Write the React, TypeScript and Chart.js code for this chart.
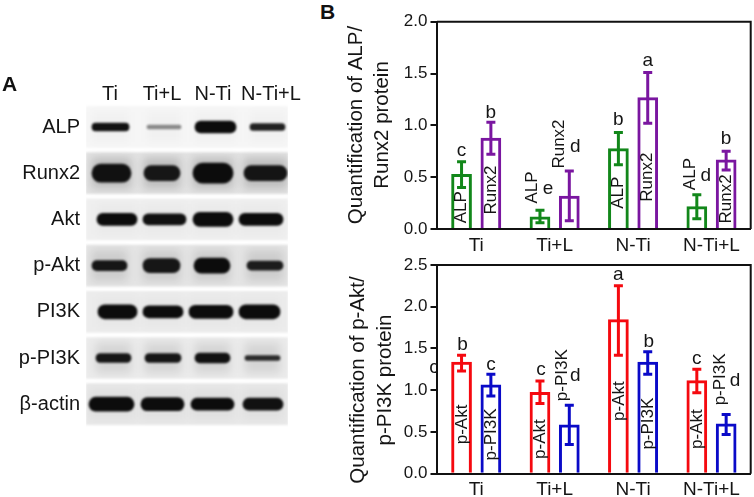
import { useEffect, useRef } from "react";
import Chart, { Plugin } from "chart.js/auto";

const FONT = "'Liberation Sans', Arial, sans-serif";
const TEXT = "#151515";

// panel A, blot bands. start/end are lane positions on the gel's x scale
const proteins = ["ALP", "Runx2", "Akt", "p-Akt", "PI3K", "p-PI3K", "β-actin"];
const lanes = ["Ti", "Ti+L", "N-Ti", "N-Ti+L"];
const laneCenters = [24, 76, 127, 185];
const gelWidth = 202;
const gelShade = ["#f6f6f6", "#e2e2e2", "#efefef", "#e4e4e4", "#ececec", "#ebebeb", "#e8e8e8"];
const smearShade = [0.02, 0.16, 0.02, 0.1, 0.02, 0.09, 0.03];
const bandStart = [
  [6, 61, 109, 164],
  [6, 58, 107, 158],
  [11, 57, 107, 153],
  [6, 57, 108, 161],
  [12, 57, 103, 153],
  [10, 59, 109, 159],
  [3, 55, 105, 157],
];
const bandEnd = [
  [43, 95, 150, 199],
  [45, 94, 147, 201],
  [51, 100, 147, 197],
  [41, 94, 144, 197],
  [51, 97, 147, 194],
  [45, 95, 144, 194],
  [48, 98, 148, 197],
];
const bandThickness = [
  [8, 4, 12, 7],
  [18, 15, 20, 15],
  [12, 11, 14, 12],
  [10, 14, 15, 9],
  [14, 12, 13, 14],
  [9, 9, 10, 5],
  [14, 13, 12, 12],
];
const bandColor = [
  ["#111", "#888", "#0c0c0c", "#222"],
  ["#111", "#161616", "#0c0c0c", "#141414"],
  ["#0c0c0c", "#111", "#0c0c0c", "#0c0c0c"],
  ["#161616", "#161616", "#0c0c0c", "#1c1c1c"],
  ["#0c0c0c", "#0c0c0c", "#0c0c0c", "#0c0c0c"],
  ["#161616", "#161616", "#111", "#2a2a2a"],
  ["#0c0c0c", "#0c0c0c", "#0c0c0c", "#111"],
];

// panel B, upper chart
const groups = ["Ti", "Ti+L", "N-Ti", "N-Ti+L"];
const alpValues = [0.53, 0.12, 0.78, 0.22];
const alpHigh = [0.65, 0.18, 0.93, 0.33];
const alpLow = [0.4, 0.06, 0.62, 0.1];
const alpLetters = ["c", "e", "b", "d"];
const alpLetterAt = [0.75, 0.386, 1.05, 0.51];
const alpLetterShift = [0, 8, 0, 9];
const alpTagAt = [0.21, 0.4, 0.35, 0.53];
const alpTagShift = [0, -8, 0, -7];

const runxValues = [0.88, 0.32, 1.27, 0.67];
const runxHigh = [1.03, 0.56, 1.51, 0.75];
const runxLow = [0.72, 0.08, 1.02, 0.57];
const runxLetters = ["b", "d", "a", "b"];
const runxLetterAt = [1.12, 0.79, 1.62, 0.87];
const runxLetterShift = [0, 6, 0, 0];
const runxTagAt = [0.376, 0.82, 0.5, 0.29];
const runxTagShift = [0, -10, 0, 0];

// panel B, lower chart
const aktValues = [1.34, 0.98, 1.85, 1.12];
const aktHigh = [1.42, 1.11, 2.25, 1.25];
const aktLow = [1.23, 0.84, 1.42, 0.97];
const aktLetters = ["b", "c", "a", "c"];
const aktLetterAt = [1.55, 1.24, 2.38, 1.38];
const aktLetterShift = [1, 1, 0, 0];
const aktTagAt = [0.59, 0.415, 0.87, 0.535];
const aktTagShift = [1, 0, 1, 0];

const pi3kValues = [1.07, 0.59, 1.34, 0.6];
const pi3kHigh = [1.19, 0.82, 1.46, 0.71];
const pi3kLow = [0.93, 0.35, 1.19, 0.47];
const pi3kLetters = ["c", "d", "b", "d"];
const pi3kLetterAt = [1.31, 1.17, 1.585, 1.11];
const pi3kLetterShift = [0, 6, 1, 9];
const pi3kTagAt = [0.47, 1.18, 0.6, 1.13];
const pi3kTagShift = [0, -7, 1, -6];

interface SeriesInfo {
  name: string;
  color: string;
  values: number[];
  high: number[];
  low: number[];
  letters: string[];
  letterAt: number[];
  letterShift: number[];
  tagAt: number[];
  tagShift: number[];
}

interface PanelProps {
  series: SeriesInfo[];
  max: number;
  titleLines: string[];
  titleX: number[];
  titleY: number;
  height: number;
  plotTop: number;
  plotBottom: number;
  strayLetter?: { text: string; at: number };
}

const annotate = (
  panel: PanelProps
): Plugin<"bar"> => ({
  id: "annotate",
  afterDraw(chart) {
    const ctx = chart.ctx;
    const yScale = chart.scales.y;
    const area = chart.chartArea;
    ctx.save();

    // frame on top and right
    ctx.strokeStyle = "#111";
    ctx.lineWidth = 2;
    ctx.beginPath();
    ctx.moveTo(area.left, area.top);
    ctx.lineTo(area.right, area.top);
    ctx.lineTo(area.right, area.bottom);
    ctx.stroke();

    panel.series.forEach((s, i) => {
      const bars = chart.getDatasetMeta(i).data;
      s.values.forEach((_, j) => {
        const x = bars[j].x;
        const top = yScale.getPixelForValue(s.high[j]);
        const bottom = yScale.getPixelForValue(s.low[j]);

        ctx.strokeStyle = s.color;
        ctx.lineWidth = 3;
        ctx.beginPath();
        ctx.moveTo(x, top);
        ctx.lineTo(x, bottom);
        ctx.moveTo(x - 4.5, top);
        ctx.lineTo(x + 4.5, top);
        ctx.moveTo(x - 4.5, bottom);
        ctx.lineTo(x + 4.5, bottom);
        ctx.stroke();

        ctx.fillStyle = TEXT;
        ctx.textAlign = "center";
        ctx.textBaseline = "middle";
        ctx.font = `19px ${FONT}`;
        ctx.fillText(
          s.letters[j],
          x + s.letterShift[j],
          yScale.getPixelForValue(s.letterAt[j])
        );

        ctx.font = `17px ${FONT}`;
        ctx.save();
        ctx.translate(x + s.tagShift[j], yScale.getPixelForValue(s.tagAt[j]));
        ctx.rotate(-Math.PI / 2);
        ctx.fillText(s.name, 0, 0);
        ctx.restore();
      });
    });

    if (panel.strayLetter) {
      ctx.save();
      ctx.beginPath();
      ctx.rect(area.left - 10, area.top, 10, area.bottom - area.top);
      ctx.clip();
      ctx.fillStyle = TEXT;
      ctx.font = `19px ${FONT}`;
      ctx.textAlign = "center";
      ctx.textBaseline = "middle";
      ctx.fillText(
        panel.strayLetter.text,
        area.left - 3,
        yScale.getPixelForValue(panel.strayLetter.at)
      );
      ctx.restore();
    }

    // two line axis title, the lines are not quite on the plot's centre
    ctx.fillStyle = TEXT;
    ctx.font = `20.5px ${FONT}`;
    ctx.textAlign = "center";
    ctx.textBaseline = "middle";
    panel.titleLines.forEach((line, i) => {
      ctx.save();
      ctx.translate(panel.titleX[i], panel.titleY);
      ctx.rotate(-Math.PI / 2);
      ctx.fillText(line, 0, 0);
      ctx.restore();
    });
    ctx.restore();
  },
});

const BarPanel = (panel: PanelProps) => {
  const chartRef = useRef<HTMLCanvasElement | null>(null);

  useEffect(() => {
    if (!chartRef.current) return;

    const chartInstance = new Chart(chartRef.current, {
      type: "bar",
      data: {
        labels: groups,
        datasets: panel.series.map((s) => ({
          label: s.name,
          data: s.values,
          backgroundColor: "rgba(255,255,255,0)",
          borderColor: s.color,
          borderWidth: 3,
          categoryPercentage: 0.748,
          barPercentage: 0.706,
        })),
      },
      options: {
        responsive: false,
        animation: false,
        devicePixelRatio: 1,
        layout: { padding: { top: panel.plotTop, right: 3.3, left: 0, bottom: 0 } },
        plugins: { legend: { display: false }, tooltip: { enabled: false } },
        scales: {
          x: {
            afterFit: (scale) => {
              scale.height = panel.height - panel.plotBottom;
            },
            grid: { display: false, drawTicks: false },
            border: { color: "#111", width: 2 },
            ticks: { color: TEXT, font: { family: FONT, size: 19 }, padding: 5, maxRotation: 0 },
          },
          y: {
            min: 0,
            max: panel.max,
            afterFit: (scale) => {
              scale.width = 97;
            },
            grid: {
              drawOnChartArea: false,
              tickLength: 6.5,
              tickColor: "#111",
              lineWidth: 2,
            },
            border: { color: "#111", width: 2 },
            ticks: {
              stepSize: 0.5,
              color: TEXT,
              padding: 3,
              font: { family: FONT, size: 17 },
              callback: (v) => Number(v).toFixed(1),
            },
          },
        },
      },
      plugins: [annotate(panel)],
    });

    return () => {
      chartInstance.destroy();
    };
  }, []);

  return <canvas ref={chartRef} width={414} height={panel.height} />;
};

const BAND_COUNT = proteins.length * lanes.length;

// bands stay fairly crisp, the smears around them fade out into the gel
const softBlur: Plugin<"bar"> = {
  id: "softBlur",
  beforeDatasetsDraw(chart) {
    chart.ctx.save();
  },
  beforeDatasetDraw(chart, args) {
    const isSmear = args.index >= BAND_COUNT && args.index < BAND_COUNT * 2;
    chart.ctx.filter = isSmear ? "blur(4px)" : "blur(1px)";
  },
  afterDatasetsDraw(chart) {
    chart.ctx.restore();
  },
};

const BlotPanel = () => {
  const chartRef = useRef<HTMLCanvasElement | null>(null);

  useEffect(() => {
    if (!chartRef.current) return;

    const rowData = (row: number, range: number[]) =>
      proteins.map((_, r) => (r === row ? range : null));

    // first dataset ends up on top
    const bands = proteins.flatMap((_, row) =>
      lanes.map((_, lane) => ({
        data: rowData(row, [bandStart[row][lane], bandEnd[row][lane]]),
        backgroundColor: bandColor[row][lane],
        barThickness: bandThickness[row][lane],
        borderRadius: bandThickness[row][lane] / 2,
        borderSkipped: false,
      }))
    );
    const smears = proteins.flatMap((_, row) =>
      lanes.map((_, lane) => ({
        data: rowData(row, [bandStart[row][lane], bandEnd[row][lane]]),
        backgroundColor: `rgba(0,0,0,${smearShade[row]})`,
        barThickness: 30,
      }))
    );
    const gels = {
      data: proteins.map(() => [0, gelWidth]),
      backgroundColor: gelShade,
      barThickness: 41,
    };

    const chartInstance = new Chart(chartRef.current, {
      type: "bar",
      data: {
        labels: proteins,
        datasets: [...bands, ...smears, gels] as any,
      },
      options: {
        indexAxis: "y",
        responsive: false,
        animation: false,
        devicePixelRatio: 1,
        layout: { padding: { right: 32, bottom: 22.7, left: 0, top: 0 } },
        plugins: { legend: { display: false }, tooltip: { enabled: false } },
        datasets: { bar: { grouped: false } },
        scales: {
          x: {
            position: "top",
            min: 0,
            max: gelWidth,
            afterFit: (scale) => {
              scale.height = 43.9;
            },
            afterBuildTicks: (scale) => {
              scale.ticks = laneCenters.map((value) => ({ value }));
            },
            grid: { display: false, drawTicks: false },
            border: { display: false },
            ticks: {
              color: TEXT,
              padding: -3,
              maxRotation: 0,
              autoSkip: false,
              font: { family: FONT, size: 20 },
              callback: (v) => lanes[laneCenters.indexOf(Number(v))],
            },
          },
          y: {
            afterFit: (scale) => {
              scale.width = 86;
            },
            grid: { display: false, drawTicks: false },
            border: { display: false },
            ticks: {
              color: TEXT,
              padding: 6,
              autoSkip: false,
              font: { family: FONT, size: 20 },
            },
          },
        },
      },
      plugins: [softBlur],
    });

    return () => {
      chartInstance.destroy();
    };
  }, []);

  return <canvas ref={chartRef} width={320} height={390} />;
};

const alpSeries: SeriesInfo = {
  name: "ALP",
  color: "#12871a",
  values: alpValues,
  high: alpHigh,
  low: alpLow,
  letters: alpLetters,
  letterAt: alpLetterAt,
  letterShift: alpLetterShift,
  tagAt: alpTagAt,
  tagShift: alpTagShift,
};
const runxSeries: SeriesInfo = {
  name: "Runx2",
  color: "#7a16a0",
  values: runxValues,
  high: runxHigh,
  low: runxLow,
  letters: runxLetters,
  letterAt: runxLetterAt,
  letterShift: runxLetterShift,
  tagAt: runxTagAt,
  tagShift: runxTagShift,
};
const aktSeries: SeriesInfo = {
  name: "p-Akt",
  color: "#f5090f",
  values: aktValues,
  high: aktHigh,
  low: aktLow,
  letters: aktLetters,
  letterAt: aktLetterAt,
  letterShift: aktLetterShift,
  tagAt: aktTagAt,
  tagShift: aktTagShift,
};
const pi3kSeries: SeriesInfo = {
  name: "p-PI3K",
  color: "#0a0ac8",
  values: pi3kValues,
  high: pi3kHigh,
  low: pi3kLow,
  letters: pi3kLetters,
  letterAt: pi3kLetterAt,
  letterShift: pi3kLetterShift,
  tagAt: pi3kTagAt,
  tagShift: pi3kTagShift,
};

const placed = (left: number, top: number): React.CSSProperties => ({
  position: "absolute",
  left,
  top,
  lineHeight: 0,
});

const panelLetter = (left: number, top: number): React.CSSProperties => ({
  position: "absolute",
  left,
  top,
  font: `bold 21px ${FONT}`,
  color: "#111",
});

export default function App() {
  return (
    <div
      style={{
        position: "absolute",
        left: 0,
        top: 0,
        width: 754,
        height: 497,
        overflow: "hidden",
        background: "#fff",
        filter: "blur(0.35px)",
      }}
    >
      <div style={placed(0, 60)}>
        <BlotPanel />
      </div>
      <div style={placed(340, 0)}>
        <BarPanel
          series={[alpSeries, runxSeries]}
          max={2}
          titleLines={["Quantification of ALP/", "Runx2 protein"]}
          titleX={[16, 42]}
          titleY={125}
          height={255}
          plotTop={21.7}
          plotBottom={229}
        />
      </div>
      <div style={placed(340, 250)}>
        <BarPanel
          series={[aktSeries, pi3kSeries]}
          max={2.5}
          titleLines={["Quantification of p-Akt/", "p-PI3K protein"]}
          titleX={[18, 45]}
          titleY={130}
          height={247}
          plotTop={15}
          plotBottom={223.7}
          strayLetter={{ text: "c", at: 1.27 }}
        />
      </div>
      <div style={panelLetter(2, 72)}>A</div>
      <div style={panelLetter(320, 0)}>B</div>
    </div>
  );
}
